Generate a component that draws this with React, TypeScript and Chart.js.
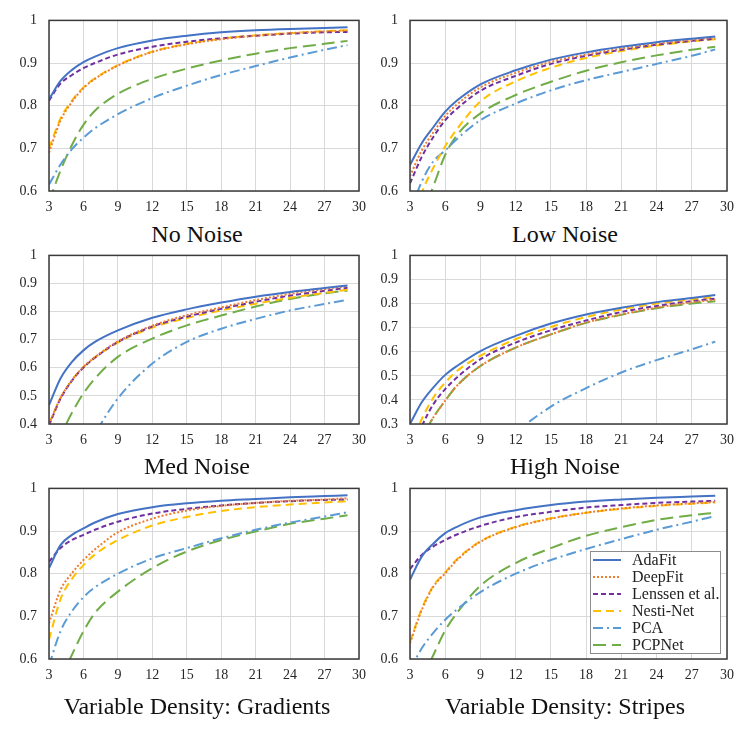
import { useEffect, useRef } from "react"
import { Chart, registerables } from "chart.js"

Chart.register(...registerables)

Chart.defaults.font.family = "'Liberation Serif', 'Times New Roman', serif"
Chart.defaults.font.size = 14
Chart.defaults.color = "#262626"

// neighbourhood sizes where the curves were read
const xValues = [3, 4, 5, 6, 7, 9, 12, 15, 18, 21, 24, 27, 29]

const methods = ["AdaFit", "DeepFit", "Lenssen et al.", "Nesti-Net", "PCA", "PCPNet"]

// one row per method, same order as above
const noNoise = [
  [0.815, 0.858, 0.884, 0.902, 0.915, 0.935, 0.953, 0.964, 0.972, 0.977, 0.98, 0.982, 0.984],
  [0.69, 0.765, 0.809, 0.841, 0.863, 0.894, 0.926, 0.944, 0.956, 0.964, 0.97, 0.974, 0.976],
  [0.812, 0.852, 0.872, 0.888, 0.9, 0.92, 0.938, 0.95, 0.958, 0.964, 0.969, 0.972, 0.973],
  [0.7, 0.77, 0.812, 0.843, 0.864, 0.895, 0.927, 0.945, 0.957, 0.965, 0.97, 0.975, 0.977],
  [0.615, 0.662, 0.698, 0.725, 0.747, 0.78, 0.818, 0.847, 0.872, 0.893, 0.913, 0.931, 0.942],
  [0.575, 0.648, 0.708, 0.755, 0.788, 0.828, 0.863, 0.887, 0.906, 0.922, 0.935, 0.945, 0.952],
]

const lowNoise = [
  [0.661, 0.712, 0.75, 0.786, 0.812, 0.85, 0.883, 0.908, 0.925, 0.938, 0.949, 0.957, 0.962],
  [0.635, 0.695, 0.738, 0.776, 0.803, 0.843, 0.877, 0.903, 0.92, 0.934, 0.945, 0.954, 0.959],
  [0.618, 0.68, 0.727, 0.766, 0.793, 0.835, 0.87, 0.898, 0.917, 0.931, 0.943, 0.952, 0.957],
  [0.5, 0.595, 0.655, 0.705, 0.745, 0.81, 0.857, 0.889, 0.912, 0.928, 0.941, 0.951, 0.956],
  [0.55, 0.622, 0.67, 0.695, 0.722, 0.766, 0.805, 0.836, 0.86, 0.879, 0.898, 0.917, 0.932],
  [0.45, 0.54, 0.612, 0.685, 0.731, 0.782, 0.825, 0.856, 0.882, 0.902, 0.918, 0.931, 0.938],
]

const medNoise = [
  [0.467, 0.562, 0.621, 0.662, 0.692, 0.733, 0.778, 0.808, 0.832, 0.853, 0.87, 0.884, 0.893],
  [0.4, 0.492, 0.556, 0.603, 0.638, 0.694, 0.75, 0.787, 0.815, 0.841, 0.863, 0.88, 0.891],
  [0.395, 0.49, 0.554, 0.601, 0.636, 0.692, 0.747, 0.782, 0.81, 0.835, 0.857, 0.874, 0.885],
  [0.4, 0.492, 0.556, 0.603, 0.637, 0.69, 0.743, 0.777, 0.804, 0.828, 0.849, 0.867, 0.878],
  [-0.01, 0.1, 0.2, 0.29, 0.365, 0.491, 0.615, 0.692, 0.739, 0.774, 0.804, 0.827, 0.842],
  [0.28, 0.36, 0.44, 0.509, 0.562, 0.639, 0.704, 0.751, 0.786, 0.818, 0.845, 0.865, 0.875],
]

const highNoise = [
  [0.3, 0.39, 0.452, 0.504, 0.541, 0.603, 0.666, 0.717, 0.755, 0.783, 0.806, 0.823, 0.836],
  [0.13, 0.24, 0.328, 0.397, 0.459, 0.541, 0.617, 0.672, 0.721, 0.755, 0.783, 0.805, 0.816],
  [0.17, 0.29, 0.383, 0.445, 0.493, 0.569, 0.638, 0.689, 0.73, 0.765, 0.79, 0.81, 0.82],
  [0.2, 0.32, 0.41, 0.472, 0.52, 0.583, 0.652, 0.703, 0.744, 0.776, 0.8, 0.817, 0.828],
  [-0.35, -0.26, -0.17, -0.09, -0.02, 0.1, 0.262, 0.372, 0.449, 0.514, 0.565, 0.61, 0.642],
  [0.13, 0.24, 0.328, 0.397, 0.459, 0.541, 0.617, 0.672, 0.72, 0.753, 0.781, 0.8, 0.81],
]

const gradients = [
  [0.813, 0.867, 0.891, 0.906, 0.92, 0.94, 0.956, 0.965, 0.971, 0.975, 0.979, 0.982, 0.984],
  [0.684, 0.762, 0.801, 0.832, 0.857, 0.897, 0.929, 0.948, 0.959, 0.966, 0.971, 0.974, 0.977],
  [0.828, 0.86, 0.879, 0.891, 0.903, 0.922, 0.941, 0.952, 0.96, 0.966, 0.97, 0.973, 0.974],
  [0.645, 0.74, 0.788, 0.82, 0.845, 0.879, 0.913, 0.933, 0.947, 0.956, 0.962, 0.967, 0.97],
  [0.585, 0.665, 0.712, 0.745, 0.768, 0.8, 0.836, 0.86, 0.883, 0.903, 0.92, 0.934, 0.944],
  [0.47, 0.55, 0.61, 0.665, 0.708, 0.758, 0.813, 0.852, 0.879, 0.899, 0.917, 0.929, 0.937],
]

const stripes = [
  [0.786, 0.84, 0.871, 0.895, 0.91, 0.932, 0.949, 0.961, 0.969, 0.974, 0.978, 0.981, 0.983],
  [0.637, 0.715, 0.77, 0.801, 0.832, 0.875, 0.909, 0.929, 0.943, 0.953, 0.96, 0.965, 0.968],
  [0.811, 0.844, 0.864, 0.879, 0.892, 0.912, 0.933, 0.945, 0.955, 0.961, 0.966, 0.969, 0.971],
  [0.64, 0.718, 0.772, 0.803, 0.834, 0.876, 0.91, 0.93, 0.943, 0.952, 0.959, 0.964, 0.967],
  [0.575, 0.625, 0.662, 0.692, 0.716, 0.757, 0.8, 0.832, 0.858, 0.881, 0.903, 0.922, 0.935],
  [0.47, 0.55, 0.61, 0.667, 0.708, 0.772, 0.825, 0.86, 0.889, 0.909, 0.926, 0.937, 0.943],
]

const colors = ["#4472C4", "#ED7D31", "#7030A0", "#FFC000", "#5B9BD5", "#70AD47"]
const dashes = [[], [2, 2], [5, 3], [8, 5], [10, 4, 2, 4], [13, 6]]

const framePlugin = {
  id: "frame",
  afterDatasetsDraw(chart: any) {
    const { ctx, chartArea } = chart
    ctx.save()
    ctx.strokeStyle = "#3a3a3a"
    ctx.lineWidth = 1.5
    ctx.strokeRect(chartArea.left, chartArea.top, chartArea.right - chartArea.left, chartArea.bottom - chartArea.top)
    ctx.restore()
  },
}

// legend boxed inside the plot area, bottom right
const insideLegendPlugin = {
  id: "insideLegend",
  afterDraw(chart: any) {
    const { ctx, chartArea } = chart
    const w = 130
    const h = 102
    const x = chartArea.right - 7 - w
    const y = chartArea.bottom - 6 - h
    ctx.save()
    ctx.fillStyle = "#fff"
    ctx.fillRect(x, y, w, h)
    ctx.strokeStyle = "#8c8c8c"
    ctx.lineWidth = 1
    ctx.strokeRect(x + 0.5, y + 0.5, w, h)
    chart.data.datasets.forEach((ds: any, i: number) => {
      const cy = y + 9 + i * 17
      ctx.strokeStyle = ds.borderColor
      ctx.lineWidth = ds.borderWidth
      ctx.setLineDash(ds.borderDash || [])
      ctx.beginPath()
      ctx.moveTo(x + 3, cy)
      ctx.lineTo(x + 31, cy)
      ctx.stroke()
      ctx.setLineDash([])
      ctx.fillStyle = "#222"
      ctx.font = "16px 'Liberation Serif', serif"
      ctx.textBaseline = "middle"
      ctx.fillText(ds.label, x + 42, cy + 1)
    })
    ctx.restore()
  },
}

interface PanelProps {
  title: string
  values: number[][]
  yMin: number
  left: number
  top: number
  width: number
  height: number
  axisWidth: number
  padRight: number
  titleTop: number
  titleCenter: number
  legend?: boolean
}

function Panel({ title, values, yMin, left, top, width, height, axisWidth, padRight, titleTop, titleCenter, legend }: PanelProps) {
  const canvasRef = useRef<HTMLCanvasElement>(null)
  const chartRef = useRef<Chart | null>(null)

  useEffect(() => {
    if (!canvasRef.current) return
    if (chartRef.current) chartRef.current.destroy()
    const ctx = canvasRef.current.getContext("2d")
    if (!ctx) return

    chartRef.current = new Chart(ctx, {
      type: "line",
      data: {
        datasets: methods.map((name, i) => ({
          label: name,
          data: xValues.map((x, j) => ({ x, y: values[i][j] })),
          borderColor: colors[i],
          backgroundColor: colors[i],
          borderWidth: 2,
          borderDash: dashes[i],
          pointRadius: 0,
          cubicInterpolationMode: "monotone" as const,
          clip: 0,
        })),
      },
      options: {
        animation: false,
        responsive: true,
        maintainAspectRatio: false,
        layout: { padding: { top: 20, right: padRight, left: 0, bottom: 0 } },
        plugins: { legend: { display: false }, tooltip: { enabled: false } },
        scales: {
          x: {
            type: "linear",
            min: 3,
            max: 30,
            ticks: { stepSize: 3, padding: 8 },
            grid: { color: "#d9d9d9", drawTicks: false },
            border: { display: false },
            afterFit: (s: any) => {
              s.height = 30
            },
          },
          y: {
            min: yMin,
            max: 1,
            ticks: {
              stepSize: 0.1,
              padding: 12,
              callback: (v: any) => String(Number(Number(v).toFixed(1))),
            },
            grid: { color: "#d9d9d9", drawTicks: false },
            border: { display: false },
            afterFit: (s: any) => {
              s.width = axisWidth
            },
          },
        },
      },
      plugins: legend ? [framePlugin, insideLegendPlugin] : [framePlugin],
    })

    return () => {
      if (chartRef.current) {
        chartRef.current.destroy()
        chartRef.current = null
      }
    }
  }, [values, yMin, axisWidth, padRight, legend])

  return (
    <>
      <div style={{ position: "absolute", left, top, width, height }}>
        <canvas ref={canvasRef} />
      </div>
      <div
        style={{
          position: "absolute",
          left: titleCenter - 200,
          top: titleTop,
          width: 400,
          textAlign: "center",
          fontFamily: "'Liberation Serif', 'Times New Roman', serif",
          fontSize: 24,
          lineHeight: "24px",
          color: "#111",
        }}
      >
        {title}
      </div>
    </>
  )
}

export default function App() {
  const leftCol = { left: 0, width: 374, axisWidth: 49, padRight: 8, titleCenter: 197 }
  const rightCol = { left: 374, width: 373, axisWidth: 36, padRight: 20, titleCenter: 565 }
  return (
    <div style={{ position: "absolute", left: 0, top: 0, width: 747, height: 738, background: "#fff" }}>
      <Panel title="No Noise" values={noNoise} yMin={0.6} top={0} height={221} titleTop={222} {...leftCol} />
      <Panel title="Low Noise" values={lowNoise} yMin={0.6} top={0} height={221} titleTop={222} {...rightCol} />
      <Panel title="Med Noise" values={medNoise} yMin={0.4} top={235} height={219} titleTop={454} {...leftCol} />
      <Panel title="High Noise" values={highNoise} yMin={0.3} top={235} height={219} titleTop={454} {...rightCol} />
      <Panel title="Variable Density: Gradients" values={gradients} yMin={0.6} top={468} height={221} titleTop={694} {...leftCol} />
      <Panel title="Variable Density: Stripes" values={stripes} yMin={0.6} top={468} height={221} titleTop={694} legend {...rightCol} />
    </div>
  )
}
